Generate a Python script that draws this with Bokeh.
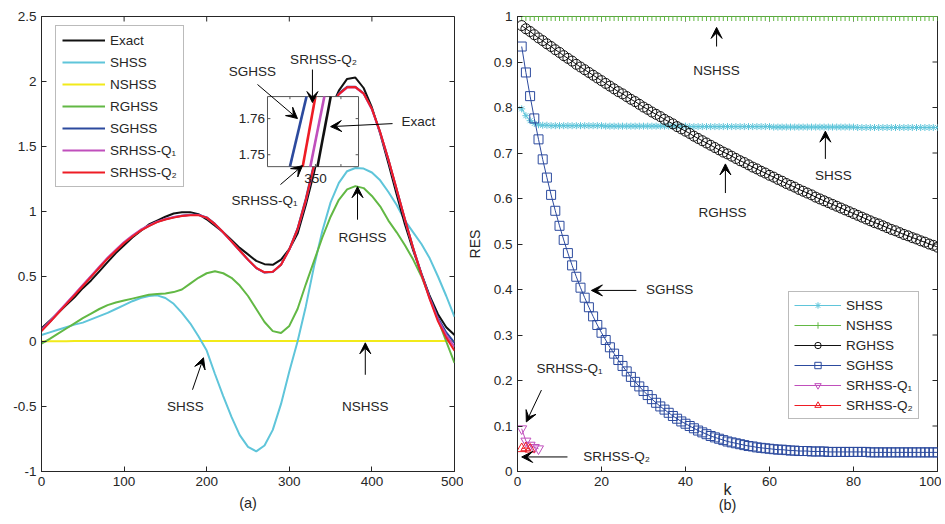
from bokeh.plotting import figure
from bokeh.layouts import row
from bokeh.models import (FixedTicker, Legend, LegendItem, Arrow, VeeHead, Label, Range1d,
                          LinearAxis)
from bokeh.embed import file_html
from bokeh.resources import INLINE

FONT = "Liberation Sans"
TXT = "#262626"

# ---------------- data (a) ----------------
x_a = [0, 10, 20, 30, 40, 50, 60, 70, 80, 90, 100, 110, 120, 130, 140, 150, 160, 170, 180, 190,
       200, 210, 220, 230, 240, 250, 260, 270, 280, 290, 300, 310, 320, 330, 340, 350, 360, 370,
       380, 390, 400, 410, 420, 430, 440, 450, 460, 470, 480, 490, 500]
exact = [0.10, 0.16, 0.22, 0.28, 0.34, 0.41, 0.47, 0.54, 0.61, 0.68, 0.74, 0.80, 0.85, 0.90, 0.93,
         0.96, 0.985, 0.995, 0.995, 0.98, 0.94, 0.89, 0.84, 0.78, 0.72, 0.67, 0.62, 0.595, 0.59,
         0.63, 0.71, 0.83, 1.05, 1.30, 1.58, 1.79, 1.93, 2.02, 2.03, 1.95, 1.80, 1.60, 1.37, 1.13,
         0.90, 0.70, 0.52, 0.35, 0.21, 0.11, 0.05]
shss_a = [0.05, 0.07, 0.09, 0.11, 0.13, 0.145, 0.17, 0.195, 0.22, 0.25, 0.28, 0.31, 0.335, 0.35,
          0.355, 0.335, 0.29, 0.22, 0.14, 0.04, -0.07, -0.25, -0.42, -0.58, -0.72, -0.81, -0.845,
          -0.80, -0.68, -0.48, -0.23, 0.0, 0.27, 0.58, 0.85, 1.07, 1.22, 1.31, 1.335, 1.33, 1.30,
          1.24, 1.15, 1.05, 0.93, 0.84, 0.75, 0.64, 0.50, 0.35, 0.19]
nshss_a = [0.0, 0.001, 0.002, 0.002, 0.003, 0.003, 0.003, 0.003, 0.003, 0.003, 0.003, 0.003,
           0.003, 0.003, 0.003, 0.003, 0.003, 0.003, 0.003, 0.003, 0.003, 0.003, 0.003, 0.003,
           0.003, 0.003, 0.003, 0.003, 0.003, 0.003, 0.003, 0.003, 0.003, 0.003, 0.003, 0.003,
           0.003, 0.003, 0.003, 0.003, 0.003, 0.003, 0.003, 0.003, 0.003, 0.003, 0.003, 0.003,
           0.003, 0.003, 0.003]
rghss_a = [-0.017, 0.02, 0.06, 0.10, 0.14, 0.18, 0.215, 0.25, 0.28, 0.30, 0.315, 0.33, 0.345,
           0.36, 0.365, 0.37, 0.38, 0.40, 0.445, 0.49, 0.525, 0.54, 0.525, 0.49, 0.43, 0.35, 0.25,
           0.15, 0.08, 0.065, 0.12, 0.25, 0.44, 0.62, 0.80, 0.96, 1.09, 1.17, 1.195, 1.18, 1.12,
           1.04, 0.93, 0.84, 0.74, 0.63, 0.50, 0.34, 0.17, 0.0, -0.165]
sghss_a = [0.085, 0.15, 0.22, 0.29, 0.36, 0.43, 0.50, 0.57, 0.64, 0.70, 0.76, 0.81, 0.855, 0.89,
           0.92, 0.94, 0.955, 0.968, 0.975, 0.975, 0.955, 0.905, 0.84, 0.77, 0.70, 0.63, 0.565,
           0.53, 0.535, 0.59, 0.71, 0.87, 1.10, 1.37, 1.62, 1.80, 1.91, 1.96, 1.96, 1.91, 1.79,
           1.61, 1.40, 1.17, 0.94, 0.72, 0.52, 0.34, 0.18, 0.07, -0.01]
q1_a = [0.09, 0.155, 0.225, 0.295, 0.365, 0.435, 0.505, 0.575, 0.645, 0.705, 0.765, 0.815, 0.86,
        0.893, 0.922, 0.942, 0.957, 0.968, 0.974, 0.973, 0.952, 0.902, 0.838, 0.768, 0.698,
        0.628, 0.565, 0.532, 0.537, 0.592, 0.705, 0.86, 1.08, 1.35, 1.60, 1.785, 1.90, 1.953,
        1.955, 1.905, 1.785, 1.605, 1.395, 1.165, 0.935, 0.715, 0.515, 0.33, 0.17, 0.05, -0.04]
q2_a = [0.08, 0.147, 0.217, 0.287, 0.357, 0.427, 0.497, 0.567, 0.637, 0.698, 0.758, 0.808, 0.853,
        0.888, 0.918, 0.938, 0.953, 0.965, 0.972, 0.972, 0.953, 0.903, 0.84, 0.77, 0.70, 0.63,
        0.566, 0.532, 0.536, 0.59, 0.708, 0.865, 1.09, 1.36, 1.61, 1.79, 1.903, 1.955, 1.957,
        1.908, 1.79, 1.612, 1.402, 1.172, 0.94, 0.718, 0.515, 0.325, 0.155, 0.03, -0.07]
ticks_ax = [0, 100, 200, 300, 400, 500]
ticks_ay = [-1, -0.5, 0, 0.5, 1, 1.5, 2, 2.5]
labels_ay = ["-1", "-0.5", "0", "0.5", "1", "1.5", "2", "2.5"]

# inset (zoom of the curves around x = 350)
inset_xlim = [348.12, 351.69]
inset_ylim = [1.7467, 1.7661]
inset_y_ends = [1.7467, 1.7661]
inset_sghss_x = [349.0, 349.65]
inset_q2_x = [349.5, 350.0]
inset_q1_x = [349.8, 350.35]
inset_exact_x = [350.08, 350.6]
inset_yticks = [1.75, 1.76]
inset_xticks = [349, 350, 351]

# ---------------- data (b) ----------------
k_b = list(range(1, 101))
shss_b = [0.797, 0.782, 0.771, 0.765, 0.762, 0.761, 0.761, 0.760, 0.760, 0.760,
          0.760, 0.760, 0.760, 0.760, 0.760, 0.760, 0.760, 0.760, 0.760, 0.760,
          0.759, 0.759, 0.759, 0.759, 0.759, 0.759, 0.759, 0.759, 0.759, 0.759,
          0.759, 0.759, 0.759, 0.759, 0.759, 0.759, 0.759, 0.759, 0.759, 0.759,
          0.758, 0.758, 0.758, 0.758, 0.758, 0.758, 0.758, 0.758, 0.758, 0.758,
          0.758, 0.758, 0.758, 0.758, 0.758, 0.758, 0.758, 0.758, 0.758, 0.758,
          0.757, 0.757, 0.757, 0.757, 0.757, 0.757, 0.757, 0.757, 0.757, 0.757,
          0.757, 0.757, 0.757, 0.757, 0.757, 0.757, 0.757, 0.757, 0.757, 0.757,
          0.756, 0.756, 0.756, 0.756, 0.756, 0.756, 0.756, 0.756, 0.756, 0.756,
          0.756, 0.756, 0.756, 0.756, 0.756, 0.756, 0.756, 0.756, 0.756, 0.756]
nshss_b = [1.000, 1.000, 1.000, 1.000, 1.000, 1.000, 1.000, 1.000, 1.000, 1.000,
           1.000, 1.000, 1.000, 1.000, 1.000, 1.000, 1.000, 1.000, 1.000, 1.000,
           1.000, 1.000, 1.000, 1.000, 1.000, 1.000, 1.000, 1.000, 1.000, 1.000,
           1.000, 1.000, 1.000, 1.000, 1.000, 1.000, 1.000, 1.000, 1.000, 1.000,
           1.000, 1.000, 1.000, 1.000, 1.000, 1.000, 1.000, 1.000, 1.000, 1.000,
           1.000, 1.000, 1.000, 1.000, 1.000, 1.000, 1.000, 1.000, 1.000, 1.000,
           1.000, 1.000, 1.000, 1.000, 1.000, 1.000, 1.000, 1.000, 1.000, 1.000,
           1.000, 1.000, 1.000, 1.000, 1.000, 1.000, 1.000, 1.000, 1.000, 1.000,
           1.000, 1.000, 1.000, 1.000, 1.000, 1.000, 1.000, 1.000, 1.000, 1.000,
           1.000, 1.000, 1.000, 1.000, 1.000, 1.000, 1.000, 1.000, 1.000, 1.000]
rghss_b = [0.980, 0.973, 0.967, 0.960, 0.953, 0.947, 0.940, 0.934, 0.927, 0.921,
           0.914, 0.908, 0.902, 0.895, 0.889, 0.883, 0.877, 0.871, 0.865, 0.859,
           0.853, 0.847, 0.841, 0.835, 0.830, 0.824, 0.818, 0.813, 0.807, 0.801,
           0.796, 0.790, 0.785, 0.780, 0.774, 0.769, 0.764, 0.758, 0.753, 0.748,
           0.743, 0.737, 0.732, 0.727, 0.722, 0.717, 0.712, 0.707, 0.702, 0.698,
           0.693, 0.688, 0.683, 0.679, 0.674, 0.669, 0.665, 0.660, 0.656, 0.651,
           0.647, 0.642, 0.638, 0.633, 0.629, 0.625, 0.620, 0.616, 0.612, 0.608,
           0.603, 0.599, 0.595, 0.591, 0.587, 0.583, 0.579, 0.575, 0.571, 0.567,
           0.563, 0.559, 0.555, 0.551, 0.547, 0.544, 0.540, 0.536, 0.532, 0.529,
           0.525, 0.521, 0.518, 0.514, 0.511, 0.507, 0.504, 0.500, 0.497, 0.493]
sghss_b = [0.934, 0.877, 0.825, 0.776, 0.730, 0.686, 0.646, 0.608, 0.573, 0.540,
           0.509, 0.480, 0.453, 0.428, 0.404, 0.382, 0.361, 0.341, 0.322, 0.305,
           0.289, 0.273, 0.259, 0.245, 0.232, 0.220, 0.208, 0.197, 0.187, 0.177,
           0.168, 0.159, 0.151, 0.143, 0.136, 0.129, 0.122, 0.116, 0.110, 0.105,
           0.100, 0.095, 0.090, 0.086, 0.082, 0.078, 0.075, 0.072, 0.069, 0.066,
           0.064, 0.062, 0.060, 0.058, 0.056, 0.055, 0.053, 0.052, 0.051, 0.050,
           0.049, 0.048, 0.048, 0.047, 0.046, 0.046, 0.045, 0.045, 0.045, 0.044,
           0.044, 0.044, 0.044, 0.043, 0.043, 0.043, 0.043, 0.043, 0.043, 0.043,
           0.043, 0.043, 0.043, 0.042, 0.042, 0.042, 0.042, 0.042, 0.042, 0.042,
           0.042, 0.042, 0.042, 0.042, 0.042, 0.042, 0.042, 0.042, 0.042, 0.042]
k_q1 = [1, 2, 3, 4, 5]
q1_b = [0.094, 0.067, 0.058, 0.053, 0.050]
k_q2 = [1, 2, 3]
q2_b = [0.050, 0.052, 0.049]
ticks_bx = [0, 20, 40, 60, 80, 100]
ticks_by = [0, 0.1, 0.2, 0.3, 0.4, 0.5, 0.6, 0.7, 0.8, 0.9, 1]
labels_by = ["0", "0.1", "0.2", "0.3", "0.4", "0.5", "0.6", "0.7", "0.8", "0.9", "1"]

C_CYAN = "#5fc5da"
C_YEL = "#f2ea1a"
C_GRN = "#62b844"
C_BLU = "#2c4a9e"
C_MAG = "#c04fbc"
C_RED = "#ee1c25"
C_BLK = "#111111"

FW_A, FW_B, FH = 413, 420, 455


def style_axes(p, xt, yt, ylabels, xr, yr, fw, fh):
    p.xgrid.visible = False
    p.ygrid.visible = False
    p.outline_line_color = "#262626"
    p.outline_line_width = 1
    for ax in p.xaxis + p.yaxis:
        ax.major_tick_in = 5
        ax.major_tick_out = 0
        ax.minor_tick_line_color = None
        ax.axis_line_color = "#262626"
        ax.major_tick_line_color = "#262626"
        ax.major_label_text_font = FONT
        ax.major_label_text_font_size = "13.5px"
        ax.major_label_text_color = TXT
        ax.major_label_standoff = 5
    p.xaxis.ticker = FixedTicker(ticks=xt)
    p.yaxis.ticker = FixedTicker(ticks=yt)
    p.yaxis.major_label_overrides = {t: l for t, l in zip(yt, ylabels)}
    # inward ticks on the right and top edges of the box
    dx = 5.0 / fw * (xr[1] - xr[0])
    dy = 5.0 / fh * (yr[1] - yr[0])
    p.segment(x0=[xr[1] - dx] * len(yt), y0=yt, x1=[xr[1]] * len(yt), y1=yt,
              line_color="#262626", line_width=1)
    p.segment(x0=xt, y0=[yr[1] - dy] * len(xt), x1=xt, y1=[yr[1]] * len(xt),
              line_color="#262626", line_width=1)


def caption_axis(p, text, standoff):
    ax = LinearAxis(ticker=FixedTicker(ticks=[]), axis_line_color=None,
                    major_tick_line_color=None, minor_tick_line_color=None,
                    axis_label=text, axis_label_standoff=standoff,
                    axis_label_text_font=FONT, axis_label_text_font_size="14.5px",
                    axis_label_text_font_style="normal", axis_label_text_color=TXT)
    p.add_layout(ax, "below")


def add_arrow(p, x0, y0, x1, y1):
    p.add_layout(Arrow(end=VeeHead(size=11, fill_color="black", line_color="black",
                                   line_width=1),
                       x_start=x0, y_start=y0, x_end=x1, y_end=y1,
                       line_color="black", line_width=1))


def add_text(p, x, y, text, size="13.5px", align="center"):
    p.add_layout(Label(x=x, y=y, text=text, text_align=align,
                       text_baseline="middle", text_font=FONT, text_font_size=size,
                       text_color=TXT))


# ---------------- figure (a) ----------------
XR_A, YR_A = (0, 500), (-1, 2.5)
p1 = figure(frame_width=FW_A, frame_height=FH, x_range=Range1d(*XR_A),
            y_range=Range1d(*YR_A), output_backend="svg", toolbar_location=None,
            min_border_left=41, min_border_right=9, min_border_top=16, min_border_bottom=50)
style_axes(p1, ticks_ax, ticks_ay, labels_ay, XR_A, YR_A, FW_A, FH)
caption_axis(p1, "(a)", 6)

series_a = [("Exact", exact, C_BLK), ("SHSS", shss_a, C_CYAN), ("NSHSS", nshss_a, C_YEL),
            ("RGHSS", rghss_a, C_GRN), ("SGHSS", sghss_a, C_BLU), ("SRHSS-Q\u2081", q1_a, C_MAG),
            ("SRHSS-Q\u2082", q2_a, C_RED)]
rend_a = {}
draw_order = ["NSHSS", "SHSS", "RGHSS", "Exact", "SGHSS", "SRHSS-Q\u2081", "SRHSS-Q\u2082"]
lookup = {n: (y, c) for n, y, c in series_a}
for n in draw_order:
    y, c = lookup[n]
    rend_a[n] = p1.line(x_a, y, line_color=c, line_width=2)

# inset: box placed in data coordinates of panel (a)
BX0, BX1, BY0, BY1 = 273.6, 383.8, 1.345, 1.884


def ix(v):
    return [BX0 + (t - inset_xlim[0]) / (inset_xlim[1] - inset_xlim[0]) * (BX1 - BX0) for t in v]


def iy(v):
    return [BY0 + (t - inset_ylim[0]) / (inset_ylim[1] - inset_ylim[0]) * (BY1 - BY0) for t in v]


p1.quad(left=[BX0], right=[BX1], bottom=[BY0], top=[BY1], fill_color="white",
        line_color="#555555", line_width=1)
for xs, c in ((inset_sghss_x, C_BLU), (inset_q2_x, C_RED), (inset_q1_x, C_MAG),
              (inset_exact_x, C_BLK)):
    p1.line(ix(xs), iy(inset_y_ends), line_color=c, line_width=2.6)
for t in inset_yticks:
    yy = iy([t])[0]
    p1.segment(x0=[BX0], y0=[yy], x1=[BX0 + 3.5], y1=[yy], line_color="#555555")
    p1.segment(x0=[BX1 - 3.5], y0=[yy], x1=[BX1], y1=[yy], line_color="#555555")
    add_text(p1, BX0 - 3, yy, "%.2f" % t, align="right")
for t in inset_xticks:
    xx = ix([t])[0]
    p1.segment(x0=[xx], y0=[BY0], x1=[xx], y1=[BY0 + 0.02], line_color="#555555")
    p1.segment(x0=[xx], y0=[BY1 - 0.02], x1=[xx], y1=[BY1], line_color="#555555")
add_text(p1, ix([350])[0], BY0 - 0.09, "350")

leg_a = Legend(items=[LegendItem(label=n, renderers=[rend_a[n]]) for n, _, _ in series_a],
               location=(14, 284))
leg_a.label_text_font = FONT
leg_a.label_text_font_size = "13.5px"
leg_a.label_text_color = TXT
leg_a.glyph_width = 43
leg_a.glyph_height = 16
leg_a.label_height = 16
leg_a.spacing = 6
leg_a.padding = 6
leg_a.margin = 0
leg_a.label_standoff = 5
leg_a.border_line_color = "#777777"
leg_a.background_fill_alpha = 1
p1.add_layout(leg_a)

add_text(p1, 255.4, 2.077, "SGHSS")
add_arrow(p1, 261.5, 1.977, 309.9, 1.715)
add_text(p1, 341.4, 2.169, "SRHSS-Q\u2082")
add_arrow(p1, 328, 2.092, 328, 1.838)
add_text(p1, 456.4, 1.692, "Exact")
add_arrow(p1, 425, 1.676, 350, 1.653)
add_text(p1, 270, 1.083, "SRHSS-Q\u2081")
add_arrow(p1, 289.3, 1.207, 316, 1.353)
add_text(p1, 388.6, 0.799, "RGHSS")
add_arrow(p1, 382.6, 0.937, 382.6, 1.191)
add_text(p1, 174.3, -0.502, "SHSS")
add_arrow(p1, 182.8, -0.371, 196.1, -0.125)
add_text(p1, 392, -0.502, "NSHSS")
add_arrow(p1, 392, -0.256, 392, -0.01)

# ---------------- figure (b) ----------------
XR_B, YR_B = (0, 100), (0, 1)
p2 = figure(frame_width=FW_B, frame_height=FH, x_range=Range1d(*XR_B),
            y_range=Range1d(*YR_B), output_backend="svg", toolbar_location=None,
            min_border_left=47, min_border_right=4, min_border_top=16, min_border_bottom=50)
style_axes(p2, ticks_bx, ticks_by, labels_by, XR_B, YR_B, FW_B, FH)
p2.yaxis[0].axis_label = "RES"
p2.yaxis[0].axis_label_text_font = FONT
p2.yaxis[0].axis_label_text_font_size = "14px"
p2.yaxis[0].axis_label_text_font_style = "normal"
p2.yaxis[0].axis_label_text_color = TXT
p2.yaxis[0].axis_label_standoff = 8
p2.xaxis[0].axis_label = "k"
p2.xaxis[0].axis_label_text_font = FONT
p2.xaxis[0].axis_label_text_font_size = "16px"
p2.xaxis[0].axis_label_text_font_style = "normal"
p2.xaxis[0].axis_label_text_color = TXT
p2.xaxis[0].axis_label_standoff = -8
caption_axis(p2, "(b)", -4)

items_b = []
specs = [("SHSS", k_b, shss_b, C_CYAN, "asterisk", 7),
         ("NSHSS", k_b, nshss_b, C_GRN, "cross", 9),
         ("RGHSS", k_b, rghss_b, C_BLK, "circle", 10),
         ("SGHSS", k_b, sghss_b, C_BLU, "square", 9),
         ("SRHSS-Q\u2081", k_q1, q1_b, C_MAG, "inverted_triangle", 10),
         ("SRHSS-Q\u2082", k_q2, q2_b, C_RED, "triangle", 10)]
for n, kx, ky, c, m, s in specs:
    lr = p2.line(kx, ky, line_color=c, line_width=1)
    sr = p2.scatter(kx, ky, marker=m, size=s, line_color=c, fill_color=None, line_width=1)
    items_b.append(LegendItem(label=n, renderers=[lr, sr]))

leg_b = Legend(items=items_b, location=(271, 52))
leg_b.label_text_font = FONT
leg_b.label_text_font_size = "13.5px"
leg_b.label_text_color = TXT
leg_b.glyph_width = 47
leg_b.glyph_height = 16
leg_b.label_height = 16
leg_b.spacing = 4
leg_b.padding = 5
leg_b.margin = 0
leg_b.label_standoff = 5
leg_b.border_line_color = "#777777"
p2.add_layout(leg_b)

add_text(p2, 47.4, 0.881, "NSHSS")
add_arrow(p2, 47.4, 0.934, 47.4, 0.976)
add_text(p2, 75.2, 0.650, "SHSS")
add_arrow(p2, 73.3, 0.687, 73.3, 0.748)
add_text(p2, 48.8, 0.570, "RGHSS")
add_arrow(p2, 49.5, 0.612, 49.5, 0.676)
add_text(p2, 36.2, 0.400, "SGHSS")
add_arrow(p2, 28.3, 0.398, 17.6, 0.398)
add_text(p2, 12.4, 0.227, "SRHSS-Q\u2081")
add_arrow(p2, 5.7, 0.179, 2.1, 0.109)
add_text(p2, 23.6, 0.032, "SRHSS-Q\u2082")
add_arrow(p2, 11.9, 0.032, 1.0, 0.032)

layout = row(p1, p2)
open("out.html", "w").write(file_html(layout, INLINE))
